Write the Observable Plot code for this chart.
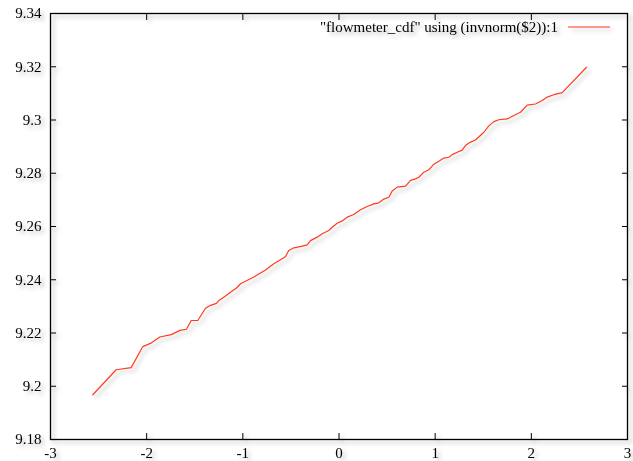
<!DOCTYPE html>
<html>
<head>
<meta charset="utf-8">
<script src="https://cdn.jsdelivr.net/npm/d3@7"></script>
<script src="https://cdn.jsdelivr.net/npm/@observablehq/plot@0.6"></script>
<style>
html, body { margin: 0; padding: 0; background: #fff; }
#chart svg { display: block; filter: drop-shadow(3px 3px 2px rgba(0,0,0,0.28)); }
</style>
</head>
<body>
<div id="chart"></div>
<script>
// normal quantile (invnorm($2)) on x, flowmeter reading on y
const quantiles = [
  -2.560, -2.317, -2.161, -2.040, -1.950, -1.863, -1.745, -1.653, -1.586, -1.537,
  -1.469, -1.388, -1.336, -1.274, -1.250, -1.180, -1.118, -1.066, -1.024, -0.886,
  -0.764, -0.678, -0.591, -0.556, -0.522, -0.470, -0.383, -0.331, -0.296, -0.227,
  -0.175, -0.106, -0.071, -0.019, 0.033, 0.085, 0.154, 0.224, 0.293, 0.362,
  0.414, 0.466, 0.518, 0.553, 0.605, 0.692, 0.744, 0.795, 0.830, 0.882,
  0.934, 0.986, 1.038, 1.090, 1.142, 1.177, 1.229, 1.281, 1.315, 1.367,
  1.419, 1.464, 1.506, 1.558, 1.610, 1.662, 1.749, 1.818, 1.887, 1.957,
  2.043, 2.113, 2.165, 2.234, 2.321, 2.574
];
const flow = [
  9.1968, 9.2062, 9.2070, 9.2149, 9.2163, 9.2185, 9.2194, 9.2210, 9.2214, 9.2247,
  9.2247, 9.2293, 9.2304, 9.2311, 9.2322, 9.2339, 9.2356, 9.2369, 9.2385, 9.2410,
  9.2437, 9.2460, 9.2479, 9.2487, 9.2510, 9.2520, 9.2526, 9.2531, 9.2547, 9.2560,
  9.2573, 9.2585, 9.2597, 9.2612, 9.2621, 9.2635, 9.2645, 9.2663, 9.2675, 9.2685,
  9.2689, 9.2703, 9.2710, 9.2733, 9.2748, 9.2752, 9.2773, 9.2779, 9.2785, 9.2804,
  9.2813, 9.2834, 9.2845, 9.2857, 9.2860, 9.2870, 9.2879, 9.2887, 9.2904, 9.2917,
  9.2925, 9.2940, 9.2954, 9.2978, 9.2994, 9.3001, 9.3004, 9.3017, 9.3029, 9.3056,
  9.3060, 9.3073, 9.3086, 9.3095, 9.3103, 9.3198
];
const xTicks = [-3, -2, -1, 0, 1, 2, 3];
const yTicks = [9.18, 9.20, 9.22, 9.24, 9.26, 9.28, 9.30, 9.32, 9.34];
const legendLabel = '"flowmeter_cdf" using (invnorm($2)):1';

const lineColor = "#ff3b1f";
const data = quantiles.map((q, i) => ({q, v: flow[i]}));
const fmtY = d => String(+d.toFixed(2));
const fmtX = d => String(d);

const legend = (index, scales, values, dims) => {
  const g = d3.create("svg:g");
  const xr = dims.width - dims.marginRight;
  const y = dims.marginTop + 14;
  g.append("line")
    .attr("x1", xr - 59).attr("x2", xr - 17)
    .attr("y1", y).attr("y2", y)
    .attr("stroke", lineColor).attr("stroke-width", 1.2);
  g.append("text")
    .attr("x", xr - 69).attr("y", y)
    .attr("dy", "0.32em")
    .attr("text-anchor", "end")
    .attr("fill", "#000")
    .text(legendLabel);
  return g.node();
};

const chart = Plot.plot({
  width: 633,
  height: 461,
  marginLeft: 50,
  marginRight: 6,
  marginTop: 13,
  marginBottom: 22,
  style: {fontFamily: "'Liberation Serif', 'Times New Roman', serif", fontSize: "15px", background: "transparent", color: "#000"},
  x: {domain: [-3, 3], label: null},
  y: {domain: [9.18, 9.34], label: null},
  marks: [
    Plot.axisX(xTicks, {anchor: "bottom", tickSize: -6, tickFormat: () => ""}),
    Plot.axisX(xTicks, {anchor: "top", tickSize: -6, tickFormat: () => ""}),
    Plot.axisY(yTicks, {anchor: "left", tickSize: -6, tickFormat: () => ""}),
    Plot.axisY(yTicks, {anchor: "right", tickSize: -6, tickFormat: () => ""}),
    Plot.axisX(xTicks, {anchor: "bottom", tickSize: 0, tickPadding: 8, tickFormat: fmtX}),
    Plot.axisY(yTicks, {anchor: "left", tickSize: 0, tickPadding: 9, tickFormat: fmtY}),
    Plot.frame({stroke: "#000", strokeWidth: 1.3}),
    Plot.line(data, {x: "q", y: "v", stroke: lineColor, strokeWidth: 1.2}),
    legend
  ]
});
document.getElementById("chart").appendChild(chart);
</script>
</body>
</html>
